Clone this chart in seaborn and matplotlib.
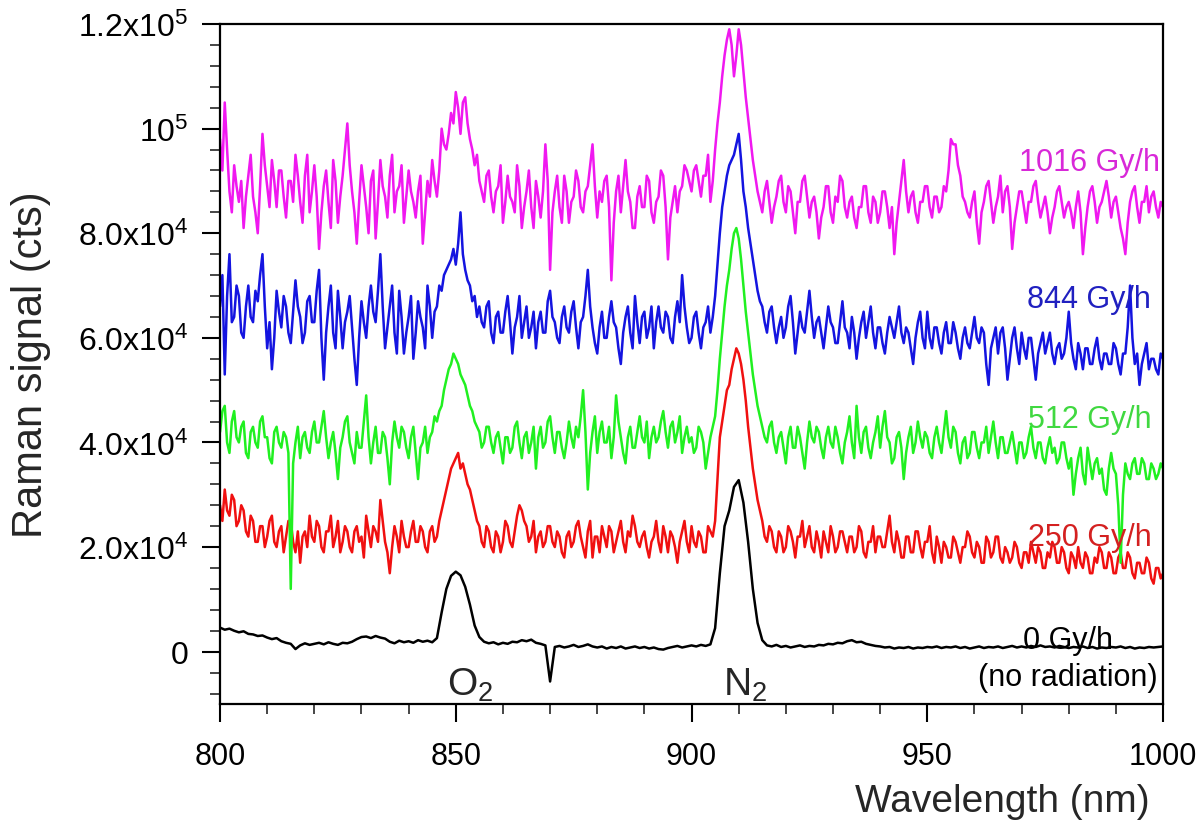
import numpy as np
import pandas as pd
import matplotlib
matplotlib.use("Agg")
import matplotlib.pyplot as plt
from matplotlib.ticker import FixedLocator, FixedFormatter, MultipleLocator
import seaborn as sns

# wavelength grids (nm); counts below are in thousands
wl_fine = [800 + 0.5 * i for i in range(401)]   # irradiated spectra
wl_coarse = list(range(800, 1001))               # reference spectrum

# 0 Gy/h (no radiation), 1 nm steps
dose_0 = [4.6, 4.2, 4.4, 4.0, 3.7, 3.9, 3.4, 3.3, 3.0, 3.1,
          2.7, 2.4, 2.6, 2.0, 1.7, 1.5, 0.5, 1.2, 1.6, 1.3,
          1.5, 1.7, 1.4, 1.8, 1.5, 1.3, 1.7, 1.6, 1.9, 2.4,
          2.8, 2.9, 2.6, 3.0, 2.7, 2.5, 1.9, 1.6, 2.1, 1.8,
          2.0, 1.7, 2.2, 1.9, 2.1, 1.8, 2.6, 7.5, 12.0, 14.5,
          15.3, 14.6, 12.4, 9.0, 5.0, 2.8, 1.9, 1.6, 1.8, 1.4,
          1.7, 1.5, 1.9, 1.8, 2.2, 2.0, 2.3, 1.7, 1.5, 1.2,
          -5.7, 0.9, 1.1, 0.8, 1.0, 1.3, 0.9, 1.1, 1.4, 1.0,
          0.8, 1.0, 0.6, 0.9, 0.7, 1.0, 0.6, 0.8, 1.0, 0.7,
          0.9, 0.6, 0.8, 0.5, 0.4, 0.7, 0.9, 1.1, 0.8, 1.0,
          1.2, 1.0, 1.3, 1.1, 1.4, 4.5, 15.0, 24.0, 27.0, 31.5,
          32.8, 28.5, 21.0, 12.0, 5.5, 2.2, 1.2, 1.0, 1.3, 0.9,
          1.1, 0.8, 1.0, 1.2, 0.9, 1.1, 1.0, 1.3, 1.2, 1.5,
          1.4, 1.7, 1.6, 2.0, 2.2, 1.8, 1.9, 1.5, 1.3, 1.1,
          1.0, 0.8, 0.9, 0.6, 0.8, 0.7, 0.9, 0.6, 0.8, 0.7,
          0.9, 0.8, 1.0, 0.7, 0.9, 0.8, 1.0, 0.7, 0.9, 0.6,
          0.8, 1.0, 0.7, 0.9, 0.8, 1.0, 0.7, 0.9, 1.1, 0.8,
          1.0, 0.8, 1.1, 0.9, 1.2, 0.9, 1.0, 0.8, 1.1, 0.9,
          0.7, 0.9, 0.8, 1.0, 0.7, 0.9, 0.6, 0.8, 0.7, 0.9,
          0.8, 1.0, 0.7, 0.9, 0.6, 0.8, 0.7, 0.9, 0.8, 0.9, 1.0]

# 0.5 nm steps, one row = 5 nm
dose_250 = [28, 25, 31, 27, 26, 30, 29, 24, 25, 28,
            27, 23, 22, 26, 25, 21, 21, 24, 24, 20,
            22, 25, 26, 21, 20, 23, 24, 19, 22, 25,
            25, 21, 19, 23, 17, 22, 23, 20, 26, 22,
            21, 25, 24, 20, 19, 23, 23, 26, 20, 22,
            25, 19, 21, 24, 23, 20, 19, 23, 24, 21,
            22, 18, 26, 23, 20, 24, 23, 21, 29, 25,
            21, 19, 15, 20, 24, 22, 19, 25, 22, 20,
            20, 23, 25, 21, 21, 24, 23, 20, 19, 23,
            24, 21, 22, 25, 27, 29, 31, 33, 35, 36,
            37, 38, 35, 36, 34, 32, 31, 29, 27, 25,
            24, 21, 20, 24, 23, 20, 19, 23, 22, 19,
            21, 25, 24, 21, 20, 23, 26, 28, 27, 25,
            24, 21, 22, 25, 19, 22, 23, 20, 21, 24,
            24, 21, 20, 23, 22, 19, 18, 22, 23, 20,
            21, 24, 25, 22, 20, 18, 23, 25, 18, 22,
            22, 19, 24, 22, 20, 24, 23, 19, 21, 23,
            25, 21, 19, 23, 22, 26, 24, 21, 20, 22,
            23, 20, 18, 21, 22, 25, 21, 19, 24, 22,
            19, 23, 22, 20, 17, 21, 23, 25, 21, 19,
            24, 21, 20, 23, 22, 19, 19, 24, 23, 22,
            25, 33, 41, 44, 47, 50, 51, 54, 56, 58,
            57, 55, 52, 48, 43, 39, 35, 32, 29, 27,
            25, 22, 21, 24, 23, 20, 19, 23, 22, 19,
            20, 24, 23, 21, 18, 22, 22, 25, 20, 22,
            24, 20, 19, 23, 21, 18, 23, 21, 19, 24,
            22, 19, 20, 23, 23, 21, 19, 22, 22, 19,
            20, 24, 23, 19, 18, 21, 21, 24, 19, 22,
            22, 20, 20, 23, 26, 21, 19, 23, 21, 18,
            18, 22, 22, 19, 19, 23, 23, 20, 18, 21,
            21, 24, 19, 17, 22, 20, 17, 21, 20, 18,
            18, 22, 21, 19, 17, 20, 20, 23, 22, 19,
            18, 21, 20, 17, 17, 22, 21, 18, 19, 22,
            22, 18, 17, 20, 19, 17, 18, 21, 20, 17,
            16, 19, 19, 17, 21, 19, 17, 20, 19, 16,
            16, 19, 18, 21, 20, 17, 17, 20, 19, 16,
            15, 19, 18, 16, 20, 17, 16, 19, 18, 15,
            15, 18, 17, 20, 19, 16, 16, 19, 18, 15,
            15, 18, 19, 16, 16, 19, 18, 15, 14, 17,
            17, 15, 15, 18, 17, 14, 13, 16, 16, 14,
            15]

dose_512 = [42, 46, 47, 40, 38, 44, 46, 41, 40, 43,
            44, 38, 37, 42, 43, 40, 39, 44, 45, 41,
            41, 37, 36, 42, 43, 40, 39, 42, 41, 38,
            12, 36, 40, 43, 37, 41, 42, 39, 38, 42,
            44, 40, 40, 43, 46, 41, 37, 40, 42, 38,
            33, 39, 41, 44, 45, 40, 38, 36, 42, 39,
            39, 44, 49, 41, 36, 40, 43, 38, 38, 42,
            41, 37, 32, 40, 44, 41, 39, 43, 42, 39,
            37, 41, 43, 38, 33, 39, 40, 43, 38, 41,
            42, 45, 44, 46, 47, 50, 52, 54, 55, 57,
            56, 55, 53, 52, 51, 49, 47, 46, 44, 43,
            42, 39, 40, 43, 43, 40, 38, 41, 42, 39,
            36, 41, 41, 38, 39, 43, 44, 40, 37, 41,
            42, 38, 40, 43, 35, 41, 43, 39, 40, 44,
            45, 41, 38, 42, 42, 39, 37, 40, 44, 41,
            39, 43, 41, 45, 50, 42, 31, 38, 42, 45,
            38, 42, 44, 40, 40, 43, 37, 41, 49, 44,
            41, 38, 36, 41, 43, 39, 39, 42, 45, 41,
            40, 44, 37, 41, 43, 40, 41, 44, 46, 42,
            39, 43, 44, 40, 42, 45, 38, 41, 43, 40,
            41, 38, 39, 43, 42, 40, 35, 38, 41, 43,
            45, 50, 56, 61, 66, 70, 73, 77, 80, 81,
            79, 75, 70, 65, 61, 57, 53, 50, 47, 45,
            43, 41, 40, 43, 44, 40, 38, 41, 42, 39,
            36, 41, 43, 39, 39, 43, 41, 38, 35, 40,
            44, 41, 40, 43, 42, 39, 37, 41, 43, 40,
            39, 43, 41, 38, 36, 40, 42, 45, 40, 37,
            47, 41, 38, 42, 43, 39, 37, 40, 42, 45,
            39, 43, 46, 41, 40, 36, 37, 41, 42, 39,
            33, 38, 41, 43, 38, 40, 44, 41, 39, 42,
            41, 38, 37, 41, 43, 40, 38, 42, 46, 41,
            39, 43, 42, 38, 36, 40, 41, 37, 38, 42,
            42, 39, 37, 40, 40, 43, 38, 41, 44, 40,
            37, 41, 41, 38, 38, 40, 42, 39, 36, 40,
            40, 37, 38, 41, 43, 39, 37, 40, 40, 37,
            36, 39, 41, 38, 39, 36, 37, 40, 40, 37,
            35, 37, 30, 34, 37, 39, 34, 32, 39, 36,
            33, 36, 37, 34, 35, 31, 30, 35, 38, 35,
            34, 28, 17, 30, 36, 34, 33, 36, 37, 34,
            34, 37, 36, 33, 33, 36, 35, 33, 34, 36,
            35]

dose_844 = [66, 72, 53, 68, 76, 63, 64, 70, 68, 61,
            60, 66, 70, 64, 63, 69, 67, 72, 76, 66,
            58, 63, 54, 60, 69, 65, 62, 68, 66, 61,
            59, 65, 71, 66, 64, 59, 61, 67, 68, 63,
            63, 69, 73, 60, 52, 61, 66, 70, 61, 58,
            69, 64, 58, 63, 65, 68, 62, 56, 51, 60,
            67, 63, 60, 66, 70, 65, 63, 69, 76, 66,
            58, 62, 66, 70, 61, 57, 69, 64, 57, 61,
            64, 68, 56, 61, 67, 64, 62, 58, 70, 66,
            60, 65, 66, 70, 69, 72, 73, 74, 75, 77,
            74, 78, 84, 76, 73, 71, 70, 67, 68, 64,
            66, 63, 62, 66, 67, 61, 59, 64, 65, 61,
            61, 65, 68, 63, 57, 62, 64, 68, 60, 63,
            66, 60, 62, 65, 58, 63, 65, 61, 61, 67,
            69, 64, 63, 60, 59, 64, 66, 62, 61, 65,
            67, 62, 58, 63, 64, 68, 73, 66, 62, 59,
            57, 62, 65, 60, 60, 64, 67, 63, 62, 58,
            55, 61, 64, 66, 61, 58, 68, 63, 59, 64,
            65, 60, 62, 66, 58, 63, 66, 62, 61, 65,
            64, 60, 59, 64, 67, 63, 72, 66, 62, 59,
            60, 64, 65, 61, 58, 62, 63, 66, 61, 64,
            68, 74, 80, 85, 88, 91, 93, 94, 95, 97,
            99, 94, 88, 85, 81, 78, 75, 72, 69, 67,
            66, 63, 61, 65, 66, 62, 59, 62, 64, 60,
            62, 66, 68, 63, 57, 61, 65, 62, 61, 65,
            69, 64, 60, 63, 64, 61, 58, 62, 66, 63,
            62, 59, 59, 63, 67, 62, 61, 58, 64, 61,
            56, 60, 63, 65, 60, 63, 66, 61, 58, 62,
            62, 59, 57, 61, 64, 62, 60, 63, 66, 61,
            59, 62, 61, 58, 55, 60, 63, 65, 60, 58,
            65, 60, 58, 62, 62, 59, 57, 61, 63, 59,
            59, 63, 61, 58, 56, 60, 62, 59, 58, 61,
            64, 60, 59, 62, 61, 55, 51, 58, 60, 62,
            57, 61, 62, 58, 52, 56, 60, 62, 58, 55,
            61, 58, 56, 60, 60, 56, 52, 57, 59, 61,
            57, 59, 61, 57, 55, 58, 59, 56, 57, 60,
            65, 59, 56, 54, 59, 57, 54, 58, 58, 55,
            55, 58, 60, 56, 54, 57, 57, 55, 55, 59,
            58, 55, 53, 57, 57, 62, 70, 60, 55, 57,
            51, 55, 57, 59, 54, 56, 56, 54, 53, 57,
            56]

dose_1016 = [98, 92, 105, 96, 88, 84, 93, 89, 86, 90,
             81, 87, 91, 95, 87, 84, 80, 89, 99, 93,
             89, 85, 94, 90, 85, 92, 92, 87, 83, 90,
             90, 86, 95, 91, 86, 82, 91, 95, 84, 88,
             93, 87, 77, 84, 89, 92, 86, 81, 94, 90,
             82, 87, 91, 96, 101, 93, 88, 84, 78, 86,
             93, 89, 85, 80, 90, 92, 79, 86, 94, 89,
             87, 83, 91, 95, 84, 88, 89, 93, 82, 87,
             92, 88, 86, 83, 88, 91, 78, 84, 90, 87,
             94, 90, 87, 92, 100, 97, 96, 99, 103, 101,
             107, 104, 99, 105, 106, 101, 98, 96, 93, 95,
             90, 88, 86, 91, 92, 87, 84, 88, 89, 93,
             82, 86, 91, 87, 86, 84, 93, 89, 81, 85,
             88, 92, 85, 81, 90, 87, 83, 88, 97, 90,
             73, 84, 88, 91, 85, 82, 91, 88, 82, 86,
             87, 92, 90, 85, 84, 88, 89, 93, 97, 89,
             83, 88, 86, 90, 91, 85, 71, 82, 88, 91,
             84, 89, 94, 88, 86, 81, 81, 87, 89, 85,
             85, 91, 90, 84, 82, 86, 87, 92, 91, 85,
             75, 83, 86, 89, 84, 88, 89, 93, 92, 90,
             88, 92, 93, 90, 87, 91, 91, 95, 86, 90,
             96, 101, 105, 110, 114, 117, 119, 116, 110, 114,
             119, 116, 111, 106, 102, 98, 94, 91, 88, 86,
             84, 88, 90, 86, 82, 85, 87, 90, 91, 86,
             84, 89, 88, 84, 80, 86, 86, 90, 91, 87,
             83, 86, 87, 84, 79, 83, 85, 89, 89, 84,
             82, 87, 86, 91, 90, 85, 83, 86, 87, 83,
             81, 85, 85, 89, 89, 84, 82, 87, 86, 82,
             84, 88, 88, 85, 81, 85, 76, 82, 86, 90,
             94, 88, 84, 87, 88, 84, 82, 86, 86, 89,
             89, 85, 83, 87, 87, 84, 85, 89, 88, 92,
             98, 97, 97, 93, 91, 87, 86, 84, 83, 86,
             88, 82, 78, 84, 86, 89, 90, 86, 82, 85,
             87, 91, 84, 88, 89, 85, 77, 82, 85, 88,
             88, 85, 82, 86, 86, 89, 90, 86, 83, 85,
             87, 84, 80, 83, 85, 88, 89, 86, 83, 85,
             86, 84, 81, 85, 88, 84, 76, 81, 85, 88,
             89, 86, 82, 85, 86, 88, 90, 87, 83, 86,
             87, 84, 81, 79, 76, 82, 86, 88, 89, 85,
             82, 86, 86, 89, 84, 87, 88, 85, 83, 86,
             85]

doses = ["0 Gy/h", "250 Gy/h", "512 Gy/h", "844 Gy/h", "1016 Gy/h"]
line_colors = ["#000000", "#f01010", "#20f020", "#1414e0", "#f018f0"]
text_colors = ["#000000", "#d42020", "#40d840", "#2020c0", "#d828d8"]

frames = []
for name, vals in zip(doses, [dose_0, dose_250, dose_512, dose_844, dose_1016]):
    wl = wl_coarse if name == "0 Gy/h" else wl_fine
    frames.append(pd.DataFrame({"wavelength": wl,
                                "counts": np.array(vals, dtype=float) * 1000,
                                "dose": name}))
df = pd.concat(frames, ignore_index=True)

sns.set_style("white")
plt.rcParams["font.family"] = ["Liberation Sans", "DejaVu Sans"]
plt.rcParams["mathtext.fontset"] = "custom"
plt.rcParams["mathtext.rm"] = "Liberation Sans"
plt.rcParams["mathtext.it"] = "Liberation Sans"

fig = plt.figure(figsize=(12.03, 8.29), dpi=100)
ax = fig.add_axes([0.1829, 0.1496, 0.7839, 0.8202])

sns.lineplot(data=df, x="wavelength", y="counts", hue="dose",
             hue_order=doses, palette=dict(zip(doses, line_colors)),
             linewidth=1.8, legend=False, ax=ax)

ax.set_xlim(800, 1000)
ax.set_ylim(-10000, 120000)

ax.xaxis.set_major_locator(MultipleLocator(50))
ax.xaxis.set_minor_locator(MultipleLocator(10))
ytick_vals = [0, 20000, 40000, 60000, 80000, 100000, 120000]
ytick_labels = ["0", r"2.0x10$^4$", r"4.0x10$^4$", r"6.0x10$^4$",
                r"8.0x10$^4$", r"10$^5$", r"1.2x10$^5$"]
ax.yaxis.set_major_locator(FixedLocator(ytick_vals))
ax.yaxis.set_major_formatter(FixedFormatter(ytick_labels))
ax.yaxis.set_minor_locator(MultipleLocator(4000))

ax.tick_params(axis="both", which="major", direction="out", length=13,
               width=1.5, labelsize=22, color="black", labelcolor="black",
               bottom=True, left=True)
ax.tick_params(axis="both", which="minor", direction="out", length=7,
               width=1.2, bottom=True, left=True)
ax.tick_params(axis="x", pad=14)
ax.tick_params(axis="y", pad=10, labelsize=23)
for side in ["top", "right", "bottom", "left"]:
    ax.spines[side].set_visible(True)
    ax.spines[side].set_color("black")
    ax.spines[side].set_linewidth(1.6)

ax.set_xlabel("Wavelength (nm)", fontsize=28, loc="right")
ax.xaxis.set_label_coords(0.986, -0.116)
ax.set_ylabel("Raman signal (cts)", fontsize=30)
ax.yaxis.set_label_coords(-0.179, 0.5)

# curve labels
label_pos = [(989.4, 2300), (997.5, 22000), (997.5, 44400), (997.5, 67400), (999.4, 93600)]
for name, (lx, ly), c in zip(doses, label_pos, text_colors):
    ax.text(lx, ly, name, color=c, fontsize=22, ha="right", va="center")
ax.text(998.8, -4800, "(no radiation)", color="black", fontsize=22, ha="right", va="center")
ax.text(853, -6300, r"O$_2$", fontsize=28, ha="center", va="center")
ax.text(911.3, -6300, r"N$_2$", fontsize=28, ha="center", va="center")

fig.savefig("out.png", dpi=100)
